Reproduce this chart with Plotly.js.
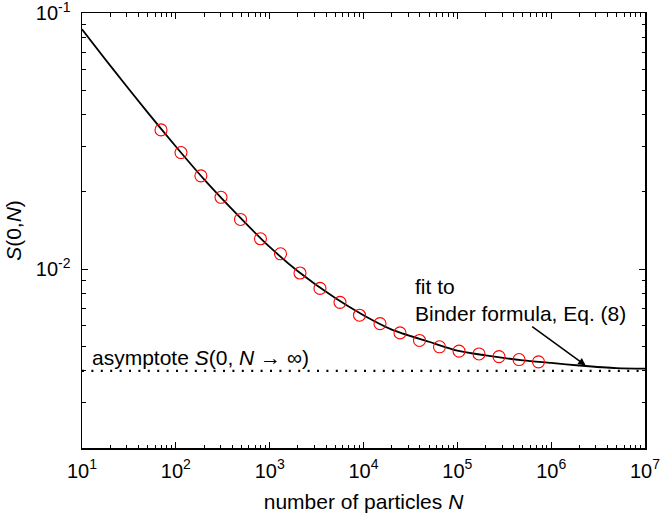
<!DOCTYPE html>
<html>
<head>
<meta charset="utf-8">
<script src="https://cdn.plot.ly/plotly-3.0.1.min.js"></script>
<style>html,body{margin:0;padding:0;background:#fff;}#chart{width:660px;height:519px;}</style>
</head>
<body>
<div id="chart"></div>
<script>
// Simulation data points
const pointsN = [69.5, 113.5, 185, 303, 489, 798, 1305, 2105, 3437, 5618, 9066, 14990, 24490, 39520, 64570, 104200, 170200, 278000, 454500, 732800];
const pointsS = [0.03495, 0.02851, 0.02312, 0.01906, 0.01562, 0.01313, 0.01147, 0.00965, 0.00840, 0.00741, 0.00660, 0.00612, 0.00563, 0.00526, 0.00497, 0.00478, 0.00466, 0.00455, 0.00443, 0.00434];

// Fit curve samples
const fitN = [10, 20, 50, 100, 200, 500, 1000, 2000, 5000, 1e4, 2e4, 5e4, 1e5, 2e5, 5e5, 1e6, 2e6, 5e6, 1e7];
const fitS = [0.0864, 0.0623, 0.0409, 0.0301, 0.0224, 0.0157, 0.0122, 0.0098, 0.0077, 0.0066, 0.0058, 0.0052, 0.0048, 0.0046, 0.0044, 0.0043, 0.0042, 0.0041, 0.00408];

// Asymptote
const asymN = [10, 1e7];
const asymS = [0.0040, 0.0040];

// Tick labels
const xTickVals = [10, 100, 1000, 1e4, 1e5, 1e6, 1e7];
const xTickText = ['10<sup>1</sup>', '10<sup>2</sup>', '10<sup>3</sup>', '10<sup>4</sup>', '10<sup>5</sup>', '10<sup>6</sup>', '10<sup>7</sup>'];
const yTickVals = [0.01, 0.1];
const yTickText = ['10<sup>-2</sup>', '10<sup>-1</sup>'];

function minorTicks(lo, hi) {
  const out = [];
  for (let e = lo; e < hi; e++) {
    for (let m = 2; m <= 9; m++) out.push(m * Math.pow(10, e));
  }
  return out;
}

const FONT = 'Liberation Sans, Arial, sans-serif';

const traces = [
  {
    x: asymN, y: asymS, type: 'scatter', mode: 'lines',
    line: {color: 'black', width: 2.2, dash: '2px,7.4px'},
    hoverinfo: 'skip', showlegend: false
  },
  {
    x: fitN, y: fitS, type: 'scatter', mode: 'lines',
    line: {color: 'black', width: 1.8, shape: 'spline', smoothing: 0.8},
    showlegend: false
  },
  {
    x: pointsN, y: pointsS, type: 'scatter', mode: 'markers',
    marker: {symbol: 'circle-open', size: 12, color: '#ff0000', line: {width: 1.1, color: '#ff0000'}},
    showlegend: false
  }
];

const layout = {
  width: 660, height: 519,
  margin: {l: 82, r: 15, t: 13, b: 70.5},
  paper_bgcolor: 'white', plot_bgcolor: 'white',
  font: {family: FONT, color: 'black', size: 20},
  showlegend: false,
  xaxis: {
    type: 'log', range: [1, 7],
    tickmode: 'array', tickvals: xTickVals, ticktext: xTickText,
    ticks: 'inside', ticklen: 6, tickwidth: 1, tickcolor: 'black',
    minor: {tickmode: 'array', tickvals: minorTicks(1, 7), ticks: 'inside', ticklen: 3.5, tickwidth: 1, tickcolor: 'black'},
    showline: true, linecolor: 'black', linewidth: 1.5, mirror: 'ticks',
    showgrid: false, zeroline: false,
    tickfont: {family: FONT, size: 20, color: 'black'},
    ticklabelstandoff: 4, ticklabeloverflow: 'allow',
    title: {text: 'number of particles <i>N</i>', font: {family: FONT, size: 21, color: 'black'}, standoff: 14}
  },
  yaxis: {
    type: 'log', range: [Math.log10(0.002), -1],
    tickmode: 'array', tickvals: yTickVals, ticktext: yTickText,
    ticks: 'inside', ticklen: 6, tickwidth: 1, tickcolor: 'black',
    minor: {tickmode: 'array', tickvals: minorTicks(-3, -1).filter(v => v > 0.0019), ticks: 'inside', ticklen: 3.5, tickwidth: 1, tickcolor: 'black'},
    showline: true, linecolor: 'black', linewidth: 1.5, mirror: 'ticks',
    showgrid: false, zeroline: false,
    tickfont: {family: FONT, size: 20, color: 'black'},
    ticklabelstandoff: 6, ticklabeloverflow: 'allow',
    title: {text: '<i>S</i>(0,<i>N</i>)', font: {family: FONT, size: 21, color: 'black'}, standoff: 8}
  },
  annotations: [
    {
      xref: 'paper', yref: 'paper', x: 0.014, y: 0.208, xanchor: 'left', yanchor: 'middle',
      text: 'asymptote <i>S</i>(0, <i>N</i> → ∞)', showarrow: false,
      font: {family: FONT, size: 21, color: 'black'}
    },
    {
      xref: 'paper', yref: 'paper', x: 0.588, y: 0.34, xanchor: 'left', yanchor: 'middle', align: 'left',
      text: 'fit to<br>Binder formula, Eq. (8)', showarrow: false,
      font: {family: FONT, size: 21, color: 'black'}
    },
    {
      xref: 'x', yref: 'y', x: 6.368, y: Math.log10(0.0042), text: '',
      showarrow: true, arrowhead: 2, arrowsize: 1, arrowwidth: 1.5, arrowcolor: 'black',
      ax: -55, ay: -40, standoff: 0
    }
  ]
};

Plotly.newPlot('chart', traces, layout, {displayModeBar: false, staticPlot: true});
</script>
</body>
</html>
